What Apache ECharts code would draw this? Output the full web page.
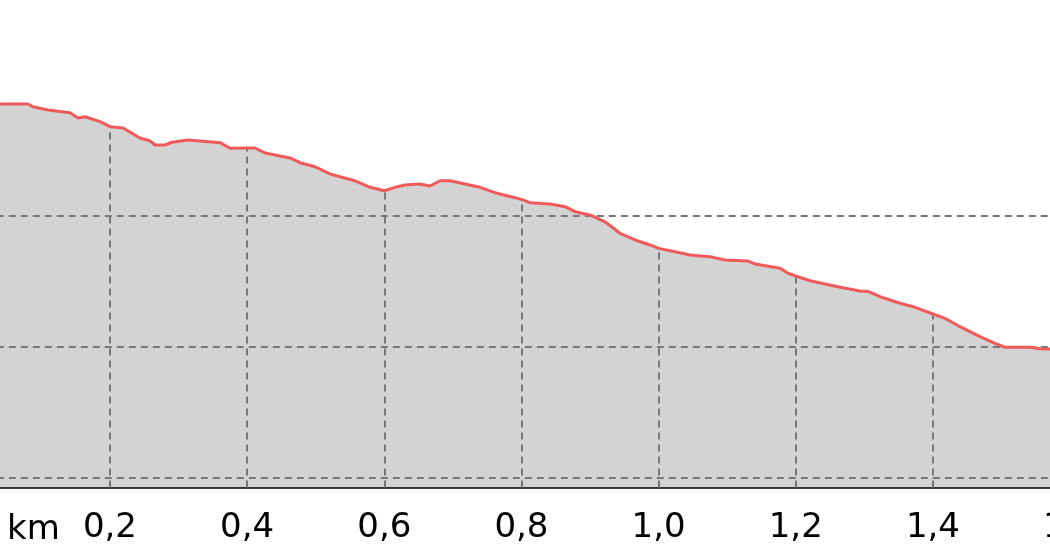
<!DOCTYPE html>
<html>
<head>
<meta charset="utf-8">
<script src="https://cdn.jsdelivr.net/npm/echarts@6/dist/echarts.min.js"></script>
<style>
  html, body { margin: 0; padding: 0; background: #ffffff; }
  #chart { width: 1050px; height: 560px; }
</style>
</head>
<body>
<div id="chart"></div>
<script>
// Distance along the route (km)
const distanceKm = [
  0.000, 0.040, 0.0805, 0.0878, 0.1097, 0.1417, 0.1534, 0.1636, 0.1855, 0.200,
  0.219, 0.2438, 0.2584, 0.2657, 0.2802, 0.2905, 0.3138, 0.3269, 0.3605, 0.375,
  0.400, 0.4115, 0.4261, 0.4407, 0.4625, 0.4771, 0.499, 0.5209, 0.5355, 0.5573,
  0.5792, 0.600, 0.6156, 0.6302, 0.6521, 0.6667, 0.6813, 0.6958, 0.7177, 0.7396,
  0.7615, 0.7833, 0.800, 0.8125, 0.8417, 0.8636, 0.8781, 0.8999, 0.9218, 0.9437,
  0.9656, 0.9875, 1.000, 1.0239, 1.0458, 1.0749, 1.0968, 1.1304, 1.1405, 1.177,
  1.1887, 1.200, 1.2208, 1.2427, 1.2645, 1.2937, 1.3054, 1.3229, 1.352, 1.3739,
  1.400, 1.4176, 1.4395, 1.4686, 1.4905, 1.5051, 1.5415, 1.5561, 1.5707, 1.600
];
// Elevation (m)
const elevationM = [
  238.60, 238.55, 238.55, 238.34, 238.09, 237.89, 237.48, 237.58, 237.20, 236.82,
  236.72, 235.95, 235.73, 235.42, 235.42, 235.63, 235.80, 235.75, 235.60, 235.17,
  235.19, 235.19, 234.81, 234.66, 234.43, 234.07, 233.76, 233.21, 233.00, 232.69,
  232.19, 231.93, 232.19, 232.37, 232.44, 232.29, 232.69, 232.69, 232.44, 232.19,
  231.78, 231.49, 231.27, 231.02, 230.92, 230.71, 230.33, 230.08, 229.56, 228.68,
  228.17, 227.79, 227.53, 227.27, 227.02, 226.89, 226.64, 226.56, 226.34, 226.01,
  225.63, 225.42, 225.06, 224.81, 224.56, 224.27, 224.24, 223.84, 223.34, 223.03,
  222.52, 222.19, 221.55, 220.79, 220.28, 219.98, 219.98, 219.87, 219.85, 219.80
];
// Axis settings / tick positions
const xTicksKm = [0.2, 0.4, 0.6, 0.8, 1.0, 1.2, 1.4];
const yGridValues = [210, 220, 230];
const xMin = 0, xMax = 1.6, xInterval = 0.2;
const yMin = 209.275, yMax = 246.489;
const unitLabel = 'km';

const data = distanceKm.map((d, i) => [d, elevationM[i]]);

function elevAt(km) {
  for (let i = 0; i < distanceKm.length; i++) {
    if (Math.abs(distanceKm[i] - km) < 1e-6) return elevationM[i];
  }
  return yMin;
}

const gridStyle = { color: '#777777', width: 2, type: [7, 5] };

const markLineData = [];
yGridValues.forEach(v => markLineData.push({ yAxis: v }));
xTicksKm.forEach(k => markLineData.push([
  { coord: [k, yMin] },
  { coord: [k, elevAt(k)] }
]));

const chart = echarts.init(document.getElementById('chart'), null, { renderer: 'canvas' });
chart.setOption({
  animation: false,
  backgroundColor: '#ffffff',
  grid: {
    left: -27.2, right: -20.08, top: 0, bottom: 72.5,
    containLabel: false, outerBoundsMode: 'none'
  },
  xAxis: {
    type: 'value',
    min: xMin, max: xMax, interval: xInterval,
    axisLine: { show: true, lineStyle: { color: '#000000', width: 2.5 } },
    axisTick: { show: false },
    splitLine: { show: false },
    axisLabel: {
      show: true,
      color: '#000000',
      fontFamily: 'DejaVu Sans',
      fontSize: 34,
      margin: 24,
      showMaxLabel: true,
      showMinLabel: false,
      hideOverlap: false,
      formatter: v => (v === 0 ? '' : v.toFixed(1).replace('.', ','))
    }
  },
  yAxis: {
    type: 'value',
    min: yMin, max: yMax,
    show: false,
    splitLine: { show: false }
  },
  graphic: [{
    type: 'text',
    left: 7,
    top: 513,
    style: { text: unitLabel, font: '34px "DejaVu Sans"', fill: '#000000' }
  }],
  series: [
    {
      type: 'line',
      data: data,
      showSymbol: false,
      symbol: 'none',
      silent: true,
      z: 2,
      lineStyle: { width: 0, opacity: 0 },
      areaStyle: { color: '#d3d3d3', opacity: 1 },
      markLine: {
        silent: true,
        symbol: ['none', 'none'],
        label: { show: false },
        lineStyle: gridStyle,
        data: markLineData,
        animation: false
      }
    },
    {
      type: 'line',
      data: data,
      showSymbol: false,
      symbol: 'none',
      silent: true,
      z: 5,
      lineStyle: { color: '#f05a5a', width: 3 }
    }
  ]
});
</script>
</body>
</html>
